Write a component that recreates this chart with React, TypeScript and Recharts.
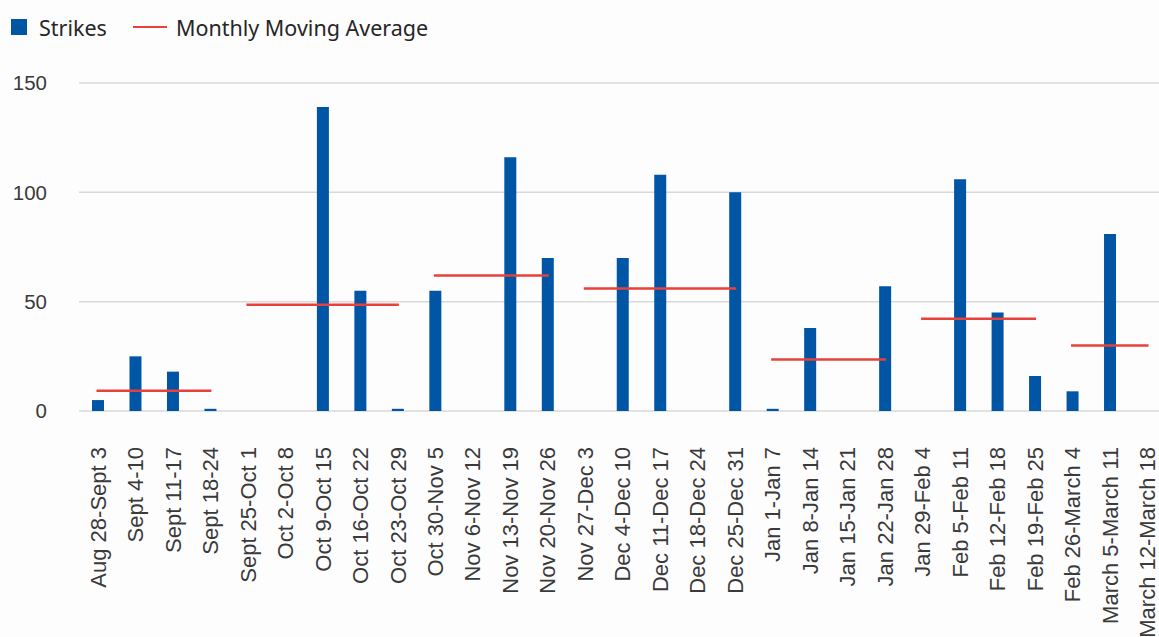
import { ComposedChart, Bar, Line, XAxis, YAxis, CartesianGrid, Legend } from 'recharts';

const weeks = [
  'Aug 28-Sept 3', 'Sept 4-10', 'Sept 11-17', 'Sept 18-24', 'Sept 25-Oct 1',
  'Oct 2-Oct 8', 'Oct 9-Oct 15', 'Oct 16-Oct 22', 'Oct 23-Oct 29', 'Oct 30-Nov 5',
  'Nov 6-Nov 12', 'Nov 13-Nov 19', 'Nov 20-Nov 26', 'Nov 27-Dec 3', 'Dec 4-Dec 10',
  'Dec 11-Dec 17', 'Dec 18-Dec 24', 'Dec 25-Dec 31', 'Jan 1-Jan 7', 'Jan 8-Jan 14',
  'Jan 15-Jan 21', 'Jan 22-Jan 28', 'Jan 29-Feb 4', 'Feb 5-Feb 11', 'Feb 12-Feb 18',
  'Feb 19-Feb 25', 'Feb 26-March 4', 'March 5-March 11', 'March 12-March 18',
];

const strikes = [5, 25, 18, 1, 0, 0, 139, 55, 1, 55, 0, 116, 70, 0, 70, 108, 0, 100, 1, 38, 0, 57, 0, 106, 45, 16, 9, 81, 0];

// monthly moving average, drawn as one flat segment per month
const avgMonths = ['Sept', 'Oct', 'Nov', 'Dec', 'Jan', 'Feb', 'March'];
const avgValues = [9.3, 48.6, 62, 56, 23.6, 42.2, 30];
const avgFirstWeek = [0, 4, 9, 13, 18, 22, 26];
const avgLastWeek = [3, 8, 12, 17, 21, 25, 28];

const yTicks = [0, 50, 100, 150];

const BLUE = '#0055A5';
const RED = '#E8403A';
const TEXT = '#3a3a3a';

const data = weeks.map((week, i) => {
  const row: Record<string, any> = { week, strikes: strikes[i] };
  avgMonths.forEach((m, k) => {
    if (i >= avgFirstWeek[k] && i <= avgLastWeek[k]) row['avg' + m] = avgValues[k];
  });
  return row;
});

const WeekTick = ({ x, y, payload }: any) => (
  <g transform={`translate(${x},${y})`}>
    <text
      transform="rotate(-90)"
      x={-34}
      y={0}
      dy="0.36em"
      textAnchor="end"
      fontSize={22}
      fontFamily="'Liberation Sans', Arial, sans-serif"
      fill={TEXT}
    >
      {payload.value}
    </text>
  </g>
);

const ChartLegend = () => (
  <div
    style={{
      display: 'flex',
      alignItems: 'center',
      height: 54,
      fontFamily: "'Noto Sans', sans-serif",
      fontSize: 21.5,
      color: '#262626',
    }}
  >
    <span style={{ width: 16, height: 16, background: BLUE, marginLeft: 11 }} />
    <span style={{ marginLeft: 12 }}>Strikes</span>
    <span style={{ width: 34, height: 2.5, background: RED, marginLeft: 26 }} />
    <span style={{ marginLeft: 9 }}>Monthly Moving Average</span>
  </div>
);

export default function App() {
  return (
    <div
      style={{
        position: 'fixed',
        left: 0,
        top: 0,
        width: 1159,
        height: 637,
        overflow: 'hidden',
        background: '#fdfdfe',
      }}
    >
      <ComposedChart
        width={1180}
        height={637}
        data={data}
        margin={{ top: 29, right: 14, bottom: 0, left: 0 }}
      >
        <CartesianGrid vertical={false} stroke="#d9d9d9" strokeWidth={1.5} />
        <XAxis
          dataKey="week"
          interval={0}
          height={226}
          axisLine={false}
          tickLine={false}
          tickSize={0}
          tick={<WeekTick />}
        />
        <YAxis
          width={79}
          domain={[0, 150]}
          ticks={yTicks}
          axisLine={false}
          tickLine={false}
          tickSize={0}
          tickMargin={32}
          tick={{ fontSize: 20.5, fill: TEXT, fontFamily: "'Liberation Sans', Arial, sans-serif" }}
        />
        <Legend
          verticalAlign="top"
          align="left"
          content={<ChartLegend />}
          wrapperStyle={{ top: 0, left: 0, width: 600, height: 54 }}
        />
        <Bar dataKey="strikes" name="Strikes" fill={BLUE} barSize={12} isAnimationActive={false} />
        {avgMonths.map((m) => (
          <Line
            key={m}
            dataKey={'avg' + m}
            stroke={RED}
            strokeWidth={2.5}
            strokeLinecap="square"
            dot={false}
            activeDot={false}
            legendType="none"
            isAnimationActive={false}
          />
        ))}
      </ComposedChart>
    </div>
  );
}
